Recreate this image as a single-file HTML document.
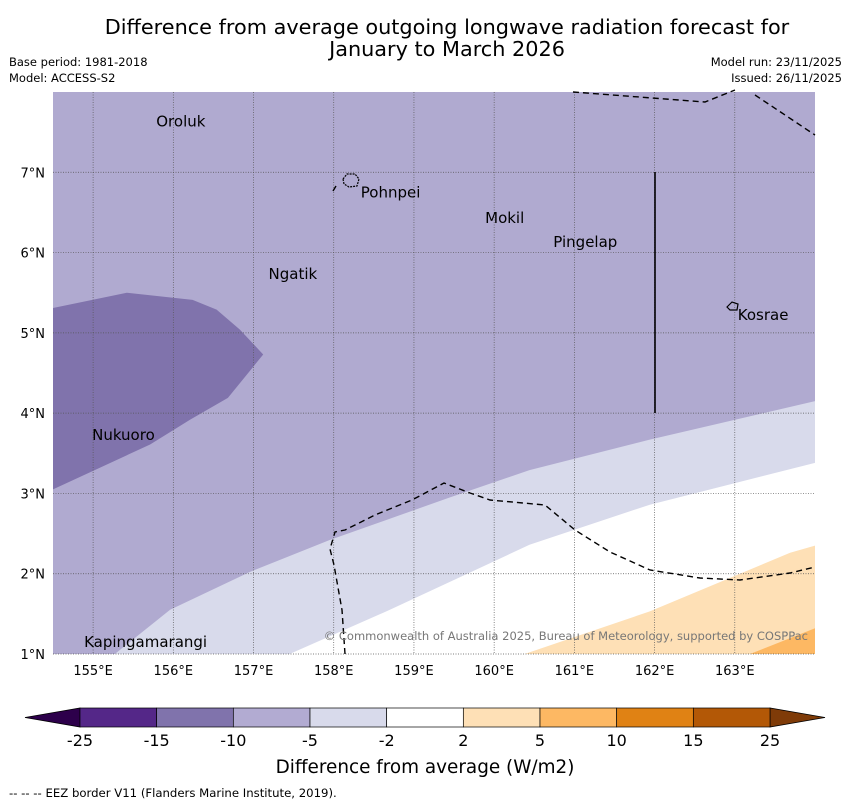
<!DOCTYPE html>
<html><head><meta charset="utf-8"><style>
body{margin:0;background:#fff;width:850px;height:804px;overflow:hidden;font-family:"DejaVu Sans","Liberation Sans",sans-serif}
</style></head><body>
<svg id="c" width="850" height="804" xmlns="http://www.w3.org/2000/svg" font-family="DejaVu Sans, Liberation Sans, sans-serif">
<text x="447" y="34" text-anchor="middle" font-size="20.8">Difference from average outgoing longwave radiation forecast for</text>
<text x="447" y="56" text-anchor="middle" font-size="20.8">January to March 2026</text>
<text x="9" y="66" font-size="11.5">Base period: 1981-2018</text>
<text x="9" y="82" font-size="11.5">Model: ACCESS-S2</text>
<text x="842" y="66" font-size="11.5" text-anchor="end">Model run: 23/11/2025</text>
<text x="842" y="82" font-size="11.5" text-anchor="end">Issued: 26/11/2025</text>
<g id="map"></g>
<g id="cb"></g>
<text x="425" y="773" text-anchor="middle" font-size="18.4">Difference from average (W/m2)</text>
<text x="9" y="797" font-size="11.7">-- -- -- EEZ border V11 (Flanders Marine Institute, 2019).</text>
</svg>
<script>
const lonTicks=[155,156,157,158,159,160,161,162,163];
const latTicks=[1,2,3,4,5,6,7];
const levels=["-25","-15","-10","-5","-2","2","5","10","15","25"];
const levelColors=["#542788","#8073ac","#b2abd2","#d8daeb","#ffffff","#fee0b6","#fdb863","#e08214","#b35806"];
const darkLon=[154.5,155.42,156.24,156.54,156.83,157.12,156.68,156.21,155.71,154.5];
const darkLat=[5.31,5.50,5.41,5.29,5.04,4.73,4.19,3.92,3.61,3.05];
const lightLon=[155.27,155.96,156.95,157.95,159.45,160.44,161.94,164.0];
const lightLat=[1.0,1.55,2.02,2.42,2.95,3.29,3.67,4.15];
const whiteLon=[157.45,158.70,160.44,161.94,164.0];
const whiteLat=[1.0,1.55,2.36,2.86,3.38];
const orLon=[160.38,161.94,163.69,164.0];
const orLat=[1.0,1.53,2.26,2.35];
const or2Lon=[163.19,164.0];
const or2Lat=[1.0,1.32];
const places=[["Oroluk",155.75,7.73],["Pohnpei",158.3,6.85],["Mokil",159.85,6.53],["Pingelap",160.7,6.23],["Ngatik",157.15,5.83],["Kosrae",163.0,5.32],["Nukuoro",154.95,3.83],["Kapingamarangi",154.85,1.25]];
const X0=53,X1=815,Y0=92,Y1=654,LON0=154.5,LON1=164.0,LAT0=1.0,LAT1=8.0;
const xs=l=>X0+(l-LON0)/(LON1-LON0)*(X1-X0);
const ys=l=>Y1-(l-LAT0)/(LAT1-LAT0)*(Y1-Y0);
const NS="http://www.w3.org/2000/svg";
const map=document.getElementById('map');
function mk(t,a,p){const e=document.createElementNS(NS,t);for(const k in a)e.setAttribute(k,a[k]);(p||map).appendChild(e);return e;}
function pts(lo,la){return lo.map((v,i)=>xs(v).toFixed(1)+','+ys(la[i]).toFixed(1));}
let e=mk('rect',{x:X0,y:Y0,width:X1-X0,height:Y1-Y0,fill:'#b0aad0'});


e=mk('polygon',{points:pts(darkLon,darkLat).join(' '),fill:'#8073ac'});


e=mk('polygon',{points:[...pts(lightLon,lightLat),xs(LON1)+','+ys(LAT0)].join(' '),fill:'#d8daeb'});


e=mk('polygon',{points:[...pts(whiteLon,whiteLat),xs(LON1)+','+ys(LAT0)].join(' '),fill:'#ffffff'});


e=mk('polygon',{points:[...pts(orLon,orLat),xs(LON1)+','+ys(LAT0)].join(' '),fill:'#fee0b6'});


e=mk('polygon',{points:[...pts(or2Lon,or2Lat),xs(LON1)+','+ys(LAT0)].join(' '),fill:'#fdb863'});


lonTicks.forEach(l=>{const x=xs(l);
 let g=mk('line',{x1:x,x2:x,y1:Y0,y2:Y1,stroke:'#555',"stroke-width":0.7,"stroke-dasharray":"1,1.5"});
 
 
 let t=mk('text',{x:x,y:675,"text-anchor":"middle","font-size":13});t.textContent=l+'°E';
 
 });
latTicks.forEach(l=>{const y=ys(l);
 let g=mk('line',{x1:X0,x2:X1,y1:y,y2:y,stroke:'#555',"stroke-width":0.7,"stroke-dasharray":"1,1.5"});
 
 
 let t=mk('text',{x:45,y:y+5,"text-anchor":"end","font-size":13});t.textContent=l+'°N';
 
 });
const eez1="M573,92 L705,102 L735,90 M755,95 L815,135";
const eez2="M345,654 L342,610 L334,565 L330,549 L335,532 L345,530 L375,515 L412,500 L444,483 L470,493 L490,500 L545,505 L575,530 L610,552 L650,570 L700,578 L740,580 L790,573 L815,567 M333,191 L336,186";
[eez1,eez2].forEach(d=>{let p=mk('path',{d:d,fill:'none',stroke:'#000',"stroke-width":1.4,"stroke-dasharray":"6,4"});
 
 });
e=mk('line',{x1:655,x2:655,y1:172,y2:413,stroke:'#000',"stroke-width":1.6});


e=mk('path',{d:"M343,179 L347,174 L355,174 L359,179 L357,186 L349,187 L344,184 Z",fill:'none',stroke:'#000',"stroke-width":1.2,"stroke-dasharray":"2,1"});


e=mk('path',{d:"M727,307 L732,302 L738,304 L737,310 L730,310 Z",fill:'none',stroke:'#000',"stroke-width":1.2});


places.forEach(p=>{const x=xs(p[1]),y=ys(p[2]);
 let t=mk('text',{x:x+3,y:y+13,"font-size":15});t.textContent=p[0];
 
 });
e=mk('text',{x:808,y:640,"text-anchor":"end","font-size":11.5,fill:'#777'});
e.textContent='© Commonwealth of Australia 2025, Bureau of Meteorology, supported by COSPPac';


const cb=document.getElementById('cb');
const CX0=80,CX1=770,CY=708,CH=19,n=levelColors.length,w=(CX1-CX0)/n;
e=mk('polygon',{points:`${CX0},${CY} ${CX0},${CY+CH} 25,${CY+CH/2}`,fill:'#2d004b',stroke:'#000',"stroke-width":0.8},cb);


e=mk('polygon',{points:`${CX1},${CY} ${CX1},${CY+CH} 825,${CY+CH/2}`,fill:'#7f3b08',stroke:'#000',"stroke-width":0.8},cb);


levelColors.forEach((c,i)=>{let r=mk('rect',{x:CX0+i*w,y:CY,width:w,height:CH,fill:c,stroke:'#000',"stroke-width":0.7},cb);
 
 });
levels.forEach((l,i)=>{let t=mk('text',{x:CX0+i*w,y:746,"text-anchor":"middle","font-size":16},cb);t.textContent=l;
 
 });
</script>
</body></html>
